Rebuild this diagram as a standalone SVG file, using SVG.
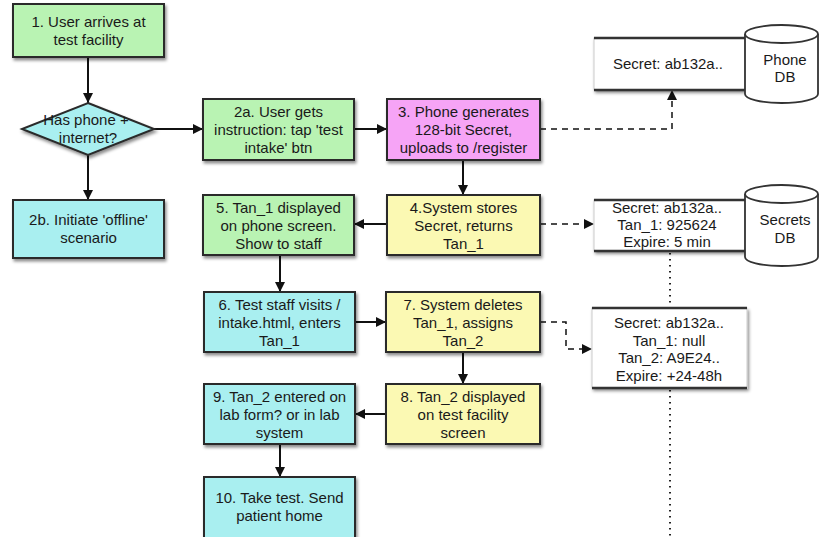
<svg xmlns="http://www.w3.org/2000/svg" width="819" height="537" viewBox="0 0 819 537">
<defs>
<filter id="sh" x="-10%" y="-10%" width="130%" height="140%">
<feDropShadow dx="1.5" dy="2.5" stdDeviation="1.5" flood-color="#000" flood-opacity="0.45"/>
</filter>
<marker id="ah" viewBox="0 0 10 10" refX="10" refY="5" markerWidth="10" markerHeight="10" markerUnits="userSpaceOnUse" orient="auto">
<path d="M0,0 L10,5 L0,10 z" fill="#111"/>
</marker>
</defs>
<style>
.box{stroke:#2a2a2a;stroke-width:2;filter:url(#sh)}
.g{fill:#b9f3b3}.c{fill:#a9eff0}.p{fill:#f6a4f6}.y{fill:#fbf9b3}
text{font-family:"Liberation Sans",Arial,sans-serif;font-size:15px;fill:#1a1a1a;text-anchor:middle}
.ln{stroke:#111;stroke-width:2;fill:none;marker-end:url(#ah)}
.dl{stroke:#111;stroke-width:1.5;fill:none;stroke-dasharray:6,5}
.dot{stroke:#222;stroke-width:2;fill:none;stroke-dasharray:1.5,4.5}
.rec{fill:#fff;stroke:#ccc;stroke-width:1;filter:url(#sh)}
.rl{stroke:#333;stroke-width:2.5}
.cyl{fill:#fff;stroke:#333;stroke-width:1.8}
</style>
<rect width="819" height="537" fill="#fff"/>

<g id="connectors">
<line class="ln" x1="88" y1="57" x2="88" y2="103"/>
<line class="ln" x1="88" y1="155" x2="88" y2="200"/>
<line class="ln" x1="154" y1="129" x2="203" y2="129"/>
<line class="ln" x1="354" y1="129" x2="387" y2="129"/>
<line class="ln" x1="463" y1="160" x2="463" y2="195"/>
<line class="ln" x1="387" y1="224" x2="354" y2="224"/>
<line class="ln" x1="280" y1="255" x2="280" y2="292"/>
<line class="ln" x1="355" y1="322" x2="386" y2="322"/>
<line class="ln" x1="463" y1="352" x2="463" y2="384"/>
<line class="ln" x1="386" y1="414" x2="355" y2="414"/>
<line class="ln" x1="280" y1="444" x2="280" y2="477"/>
<path class="dl" d="M540,129 H672 V93"/>
<path d="M667,100 L672,90 L677,100 z" fill="#111"/>
<path class="dl" d="M540,224 H584"/>
<path d="M584,219 L594,224 L584,229 z" fill="#111"/>
<path class="dl" d="M540,322 H566 V349 H582"/>
<path d="M582,344 L592,349 L582,354 z" fill="#111"/>
<line class="dot" x1="670" y1="253" x2="670" y2="307"/>
<line class="dot" x1="670" y1="390" x2="670" y2="537"/>
</g>

<g id="n1"><rect class="box g" x="13" y="4" width="151" height="53"/>
<text x="88.5" y="27">1. User arrives at</text><text x="88.5" y="45">test facility</text></g>

<g id="d1"><polygon class="box c" points="88,103 154,129 88,155 22,129"/>
<text x="86" y="125">Has phone +</text><text x="88" y="143">internet?</text></g>

<g id="n2b"><rect class="box c" x="13" y="200" width="151" height="58"/>
<text x="88.5" y="225">2b. Initiate 'offline'</text><text x="88.5" y="243">scenario</text></g>

<g id="n2a"><rect class="box g" x="203" y="99" width="151" height="61"/>
<text x="278.5" y="117">2a. User gets</text><text x="278.5" y="135">instruction: tap 'test</text><text x="278.5" y="153">intake' btn</text></g>

<g id="n3"><rect class="box p" x="387" y="99" width="153" height="61"/>
<text x="463.5" y="117">3. Phone generates</text><text x="463.5" y="135">128-bit Secret,</text><text x="463.5" y="153">uploads to /register</text></g>

<g id="n5"><rect class="box g" x="203" y="195" width="151" height="60"/>
<text x="278.5" y="213">5. Tan_1 displayed</text><text x="278.5" y="231">on phone screen.</text><text x="278.5" y="249">Show to staff</text></g>

<g id="n4"><rect class="box y" x="387" y="195" width="153" height="60"/>
<text x="463.5" y="213">4.System stores</text><text x="463.5" y="231">Secret, returns</text><text x="463.5" y="249">Tan_1</text></g>

<g id="n6"><rect class="box c" x="204" y="292" width="151" height="60"/>
<text x="279.5" y="310">6. Test staff visits  /</text><text x="279.5" y="328">intake.html, enters</text><text x="279.5" y="346">Tan_1</text></g>

<g id="n7"><rect class="box y" x="386" y="292" width="154" height="60"/>
<text x="463" y="310">7. System deletes</text><text x="463" y="328">Tan_1, assigns</text><text x="463" y="346">Tan_2</text></g>

<g id="n9"><rect class="box c" x="204" y="384" width="151" height="60"/>
<text x="279.5" y="402">9. Tan_2 entered on</text><text x="279.5" y="420">lab form? or in lab</text><text x="279.5" y="438">system</text></g>

<g id="n8"><rect class="box y" x="386" y="384" width="154" height="60"/>
<text x="463" y="402">8. Tan_2 displayed</text><text x="463" y="420">on test facility</text><text x="463" y="438">screen</text></g>

<g id="n10"><rect class="box c" x="204" y="477" width="151" height="62"/>
<text x="279.5" y="503">10. Take test. Send</text><text x="279.5" y="521">patient home</text></g>

<g id="phonerec"><rect class="rec" x="594" y="38" width="151" height="52"/>
<line class="rl" x1="594" y1="38" x2="745" y2="38"/><line class="rl" x1="594" y1="90" x2="745" y2="90"/>
<text x="668" y="69">Secret: ab132a..</text></g>

<g id="phonedb"><path class="cyl" d="M745,34 V94 A36.5,9 0 0 0 818,94 V34"/>
<ellipse class="cyl" cx="781.5" cy="34" rx="36.5" ry="9"/>
<text x="785" y="65">Phone</text><text x="785" y="82">DB</text></g>

<g id="secrec1"><rect class="rec" x="594" y="200" width="151" height="51"/>
<line class="rl" x1="594" y1="200" x2="745" y2="200"/><line class="rl" x1="594" y1="251" x2="745" y2="251"/>
<text x="667" y="213">Secret: ab132a..</text><text x="667" y="230">Tan_1: 925624</text><text x="667" y="247">Expire: 5 min</text></g>

<g id="secretsdb"><path class="cyl" d="M745,194 V257 A36.5,9 0 0 0 818,257 V194"/>
<ellipse class="cyl" cx="781.5" cy="194" rx="36.5" ry="9"/>
<text x="785" y="225">Secrets</text><text x="785" y="243">DB</text></g>

<g id="secrec2"><rect class="rec" x="592" y="308" width="155" height="80"/>
<line class="rl" x1="592" y1="308" x2="747" y2="308"/><line class="rl" x1="592" y1="388" x2="747" y2="388"/>
<text x="669" y="328">Secret: ab132a..</text><text x="669" y="346">Tan_1: null</text><text x="669" y="363">Tan_2: A9E24..</text><text x="669" y="381">Expire: +24-48h</text></g>
</svg>
